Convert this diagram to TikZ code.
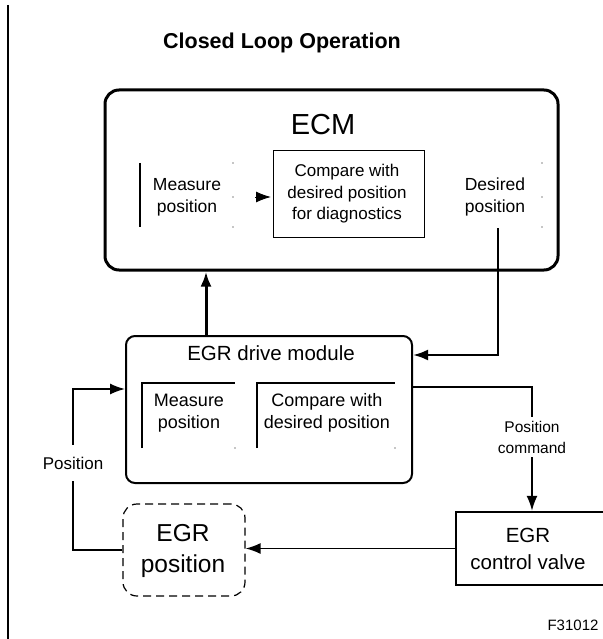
\documentclass[tikz,border=0pt]{standalone}
\usepackage{fontspec}
\setmainfont{Liberation Sans}
\usetikzlibrary{arrows.meta}
\tikzset{
  lbl/.style={align=center, inner sep=0pt},
  arr/.style={-{Latex[length=15pt,width=11pt]}},
  dot/.style={fill=black!45, draw=none},
}
\begin{document}
\begin{tikzpicture}[x=1pt,y=-1pt]
\useasboundingbox (0,0) rectangle (602,639);
\fill[white] (0,0) rectangle (602,639);
% left rule
\draw[line width=2pt] (8,5) -- (8,639);
% title
\node[lbl, font=\fontsize{21.5}{25}\selectfont\bfseries] (title) at (282,43) {Closed Loop Operation};

% ECM
\node[draw, line width=3pt, rounded corners=14pt, minimum width=453pt, minimum height=180pt] (ecm) at (331.5,180) {};
\node[lbl, font=\fontsize{29}{34}\selectfont] (ecmt) at (323,125) {ECM};
\node[lbl, font=\fontsize{17.5}{22}\selectfont] (mpos) at (187,197) {Measure\\position};
\draw[line width=1.2pt] (140,163) -- (140,227);
\foreach \yy in {163,197,227} {\fill[dot] (233,\yy) circle (0.8pt); \fill[dot] (542,\yy) circle (0.8pt);}
\node[draw, line width=1pt, minimum width=151pt, minimum height=86pt] (cmp) at (348.5,194) {};
\node[lbl, font=\fontsize{17}{21.5}\selectfont] (cmpt) at (347,194) {Compare with\\desired position\\for diagnostics};
\coordinate (atail) at (255,197);
\coordinate (atip) at (271,197);
\draw[arr, line width=1pt] (atail) -- (atip);
\node[lbl, font=\fontsize{17.5}{22}\selectfont] (dpos) at (495,197) {Desired\\position};

% EGR drive module
\node[draw, line width=2pt, rounded corners=9pt, minimum width=286pt, minimum height=147pt] (mod) at (269,409.5) {};
\node[lbl, font=\fontsize{20.5}{24}\selectfont] (modt) at (271,353) {EGR drive module};
\draw[line width=1.2pt] (142,448) -- (142,383) -- (235,383);
\draw[line width=1.2pt] (257,448) -- (257,383) -- (395,383);
\fill[dot] (235,448) circle (0.8pt);
\fill[dot] (395,448) circle (0.8pt);
\node[lbl, font=\fontsize{18}{22}\selectfont] (mpos2) at (189,413) {Measure\\position};
\node[lbl, font=\fontsize{18}{22}\selectfont] (cmp2) at (327,413) {Compare with\\desired position};

% EGR control valve
\node[draw, line width=2.5pt, minimum width=164pt, minimum height=73pt] (valve) at (538,548.5) {};
\node[lbl, font=\fontsize{20.5}{27}\selectfont] (valvet) at (528,548.5) {EGR\\control valve};

% EGR position
\node[draw, line width=1.2pt, dash pattern=on 8pt off 5pt, rounded corners=14pt, minimum width=122pt, minimum height=92pt] (egrpos) at (184,550) {};
\node[lbl, font=\fontsize{24.5}{31}\selectfont] (egrpost) at (183,551) {EGR\\position};

% labels
\node[lbl, font=\fontsize{15.5}{21}\selectfont, inner sep=4pt] (poscmd) at (532,437) {Position\\command};
\node[lbl, font=\fontsize{17}{20}\selectfont, inner ysep=12pt] (poslbl) at (73,463) {Position};
\node[lbl, font=\fontsize{15}{18}\selectfont] (fig) at (573,625) {F31012};

% connectors
\coordinate (upx) at (206,0);
\draw[arr, line width=3pt] (upx |- mod.north) -- (upx |- ecm.south);
\coordinate (dstart) at (498,228);
\coordinate (dturn) at (498,355);
\draw[arr, line width=2.5pt] (dstart) -- (dturn) -- (dturn -| mod.east);
\coordinate (cmdy) at (0,387);
\draw[line width=1.5pt] (mod.east |- cmdy) -- (poscmd |- cmdy) -- (poscmd.north);
\draw[arr, line width=1.5pt] (poscmd.south) -- (poscmd |- valve.north);
\draw[arr, line width=1.5pt] (valve.west) -- (valve.west -| egrpos.east);
\coordinate (py) at (0,389);
\draw[line width=1.5pt] (egrpos.west) -- (egrpos.west -| poslbl) -- (poslbl.south);
\draw[arr, line width=1.5pt] (poslbl.north) -- (poslbl |- py) -- (mod.west |- py);
\end{tikzpicture}
\end{document}
